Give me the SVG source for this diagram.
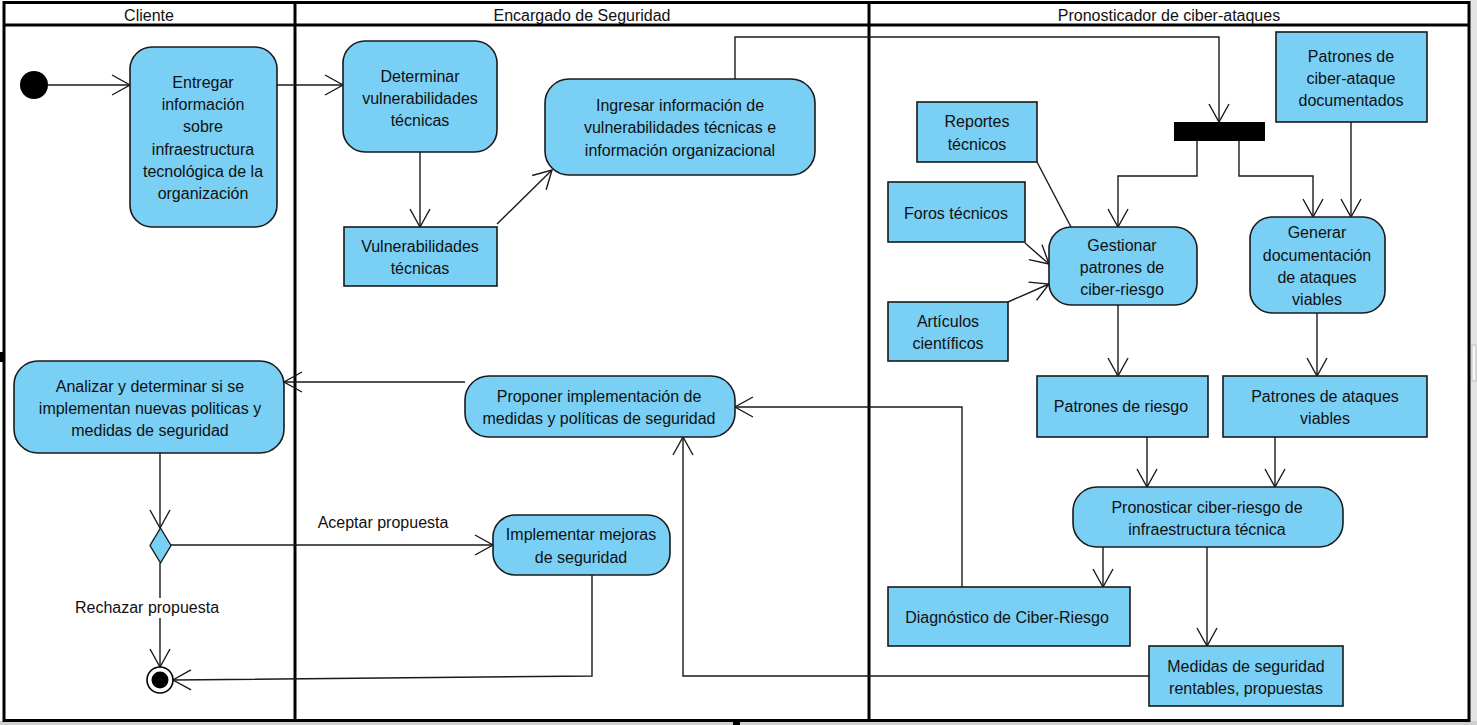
<svg xmlns="http://www.w3.org/2000/svg" width="1477" height="725" viewBox="0 0 1477 725">
<style>
.t{font-family:"Liberation Sans",Arial,sans-serif;font-size:16px;fill:#111;text-anchor:middle}
.h{font-family:"Liberation Sans",Arial,sans-serif;font-size:16px;fill:#111;text-anchor:middle}
.act{fill:#7acff5;stroke:#1a1a1a;stroke-width:1.6}
.obj{fill:#7acff5;stroke:#1a1a1a;stroke-width:1.6}
.c{fill:none;stroke:#1a1a1a;stroke-width:1.4}
.ca{fill:none;stroke:#1a1a1a;stroke-width:1.4;marker-end:url(#arr)}
.lane{fill:none;stroke:#000;stroke-width:3}
</style>
<defs>
<marker id="arr" markerUnits="userSpaceOnUse" markerWidth="20" markerHeight="22" viewBox="0 0 20 22" refX="19" refY="11" orient="auto">
<path d="M1,1 L19,11 L1,21" fill="none" stroke="#1a1a1a" stroke-width="1.4"/>
</marker>
</defs>
<rect x="0" y="0" width="1477" height="725" fill="#ffffff"/>
<rect x="1470" y="0" width="7" height="725" fill="#e4e4e4"/>
<rect x="1472" y="345" width="4" height="36" fill="#f6f6f6" stroke="#bdbdbd" stroke-width="1"/>
<rect x="0" y="721" width="1477" height="4" fill="#cfcfcf"/>
<rect x="733" y="719" width="7" height="6" fill="#000"/>
<rect x="0" y="352" width="4" height="10" fill="#000"/>

<g id="swimlanes">
<rect class="lane" x="4" y="2.5" width="1465" height="718"/>
<line class="lane" x1="4" y1="25" x2="1469" y2="25"/>
<line class="lane" x1="295" y1="2.5" x2="295" y2="720"/>
<line class="lane" x1="869" y1="2.5" x2="869" y2="720"/>
<text class="h" x="149" y="21">Cliente</text>
<text class="h" x="582" y="21">Encargado de Seguridad</text>
<text class="h" x="1169" y="21">Pronosticador de ciber-ataques</text>
</g>

<g id="connectors">
<line class="ca" x1="48" y1="85" x2="130" y2="85"/>
<line class="ca" x1="277" y1="85" x2="343" y2="85"/>
<line class="ca" x1="420" y1="152" x2="420" y2="227"/>
<line class="ca" x1="497" y1="224" x2="552" y2="170"/>
<polyline class="ca" points="735,79 735,37 1219,37 1219,122"/>
<polyline class="ca" points="1197,141 1197,176 1118,176 1118,227"/>
<polyline class="ca" points="1239,141 1239,176 1313,176 1313,217"/>
<line class="ca" x1="1351" y1="122" x2="1351" y2="217"/>
<line class="c" x1="1037" y1="162" x2="1071" y2="227"/>
<line class="ca" x1="1025" y1="243" x2="1049" y2="264"/>
<line class="ca" x1="1008" y1="302" x2="1049" y2="284"/>
<line class="ca" x1="1118" y1="305" x2="1118" y2="376"/>
<line class="ca" x1="1317" y1="313" x2="1317" y2="376"/>
<line class="ca" x1="1147" y1="437" x2="1147" y2="487"/>
<line class="ca" x1="1275" y1="437" x2="1275" y2="487"/>
<line class="ca" x1="1103" y1="547" x2="1103" y2="587"/>
<line class="ca" x1="1207" y1="547" x2="1207" y2="646"/>
<polyline class="ca" points="962,587 962,407 735,407"/>
<polyline class="ca" points="1149,676 683,676 683,437"/>
<line class="ca" x1="465" y1="382" x2="284" y2="382"/>
<line class="ca" x1="160" y1="453" x2="160" y2="528"/>
<line class="ca" x1="171" y1="545" x2="493" y2="545"/>
<line class="ca" x1="160" y1="563" x2="160" y2="667"/>
<polyline class="ca" points="592,575 592,676 173,680"/>
<rect x="72" y="598" width="150" height="20" fill="#ffffff"/>
<text class="t" x="383" y="528">Aceptar propuesta</text>
<text class="t" x="147" y="613">Rechazar propuesta</text>
</g>

<g id="initial">
<circle cx="34" cy="85" r="14" fill="#000"/>
</g>

<g id="entregar">
<rect class="act" x="130" y="47" width="147" height="180" rx="22"/>
<text class="t" x="203" y="88">Entregar</text>
<text class="t" x="203" y="110">información</text>
<text class="t" x="203" y="132">sobre</text>
<text class="t" x="203" y="155">infraestructura</text>
<text class="t" x="203" y="177">tecnológica de la</text>
<text class="t" x="203" y="199">organización</text>
</g>

<g id="determinar">
<rect class="act" x="343" y="41" width="154" height="111" rx="22"/>
<text class="t" x="420" y="82">Determinar</text>
<text class="t" x="420" y="104">vulnerabilidades</text>
<text class="t" x="420" y="126">técnicas</text>
</g>

<g id="vulnerabilidades">
<rect class="obj" x="344" y="227" width="153" height="59"/>
<text class="t" x="420" y="252">Vulnerabilidades</text>
<text class="t" x="420" y="274">técnicas</text>
</g>

<g id="ingresar">
<rect class="act" x="545" y="79" width="270" height="96" rx="24"/>
<text class="t" x="680" y="111">Ingresar información de</text>
<text class="t" x="680" y="133">vulnerabilidades técnicas e</text>
<text class="t" x="680" y="156">información organizacional</text>
</g>

<g id="fork">
<rect x="1174" y="122" width="91" height="19" fill="#000"/>
</g>

<g id="patrones-doc">
<rect class="obj" x="1276" y="32" width="151" height="90"/>
<text class="t" x="1351" y="62">Patrones de</text>
<text class="t" x="1351" y="84">ciber-ataque</text>
<text class="t" x="1351" y="106">documentados</text>
</g>

<g id="reportes">
<rect class="obj" x="917" y="102" width="120" height="60"/>
<text class="t" x="977" y="127">Reportes</text>
<text class="t" x="977" y="150">técnicos</text>
</g>

<g id="foros">
<rect class="obj" x="888" y="182" width="137" height="60"/>
<text class="t" x="956" y="219">Foros técnicos</text>
</g>

<g id="articulos">
<rect class="obj" x="888" y="302" width="120" height="59"/>
<text class="t" x="948" y="327">Artículos</text>
<text class="t" x="948" y="349">científicos</text>
</g>

<g id="gestionar">
<rect class="act" x="1049" y="227" width="148" height="78" rx="22"/>
<text class="t" x="1122" y="251">Gestionar</text>
<text class="t" x="1122" y="273">patrones de</text>
<text class="t" x="1122" y="295">ciber-riesgo</text>
</g>

<g id="generar">
<rect class="act" x="1250" y="217" width="135" height="96" rx="22"/>
<text class="t" x="1317" y="238">Generar</text>
<text class="t" x="1317" y="261">documentación</text>
<text class="t" x="1317" y="283">de ataques</text>
<text class="t" x="1317" y="305">viables</text>
</g>

<g id="patrones-riesgo">
<rect class="obj" x="1037" y="376" width="171" height="61"/>
<text class="t" x="1121" y="412">Patrones de riesgo</text>
</g>

<g id="patrones-ataques">
<rect class="obj" x="1223" y="376" width="204" height="61"/>
<text class="t" x="1325" y="402">Patrones de ataques</text>
<text class="t" x="1325" y="424">viables</text>
</g>

<g id="pronosticar">
<rect class="act" x="1073" y="487" width="270" height="60" rx="24"/>
<text class="t" x="1207" y="513">Pronosticar ciber-riesgo de</text>
<text class="t" x="1207" y="535">infraestructura técnica</text>
</g>

<g id="diagnostico">
<rect class="obj" x="888" y="587" width="242" height="59"/>
<text class="t" x="1007" y="623">Diagnóstico de Ciber-Riesgo</text>
</g>

<g id="medidas">
<rect class="obj" x="1149" y="646" width="194" height="60"/>
<text class="t" x="1246" y="672">Medidas de seguridad</text>
<text class="t" x="1246" y="694">rentables, propuestas</text>
</g>

<g id="proponer">
<rect class="act" x="465" y="376" width="270" height="61" rx="24"/>
<text class="t" x="599" y="402">Proponer implementación de</text>
<text class="t" x="599" y="424">medidas y políticas de seguridad</text>
</g>

<g id="analizar">
<rect class="act" x="14" y="361" width="270" height="92" rx="24"/>
<text class="t" x="150" y="392">Analizar y determinar si se</text>
<text class="t" x="150" y="414">implementan nuevas politicas y</text>
<text class="t" x="150" y="436">medidas de seguridad</text>
</g>

<g id="decision">
<polygon points="160.5,528 171,545.5 160.5,563 150,545.5" fill="#7acff5" stroke="#1a1a1a" stroke-width="1.4"/>
</g>

<g id="implementar">
<rect class="act" x="493" y="515" width="177" height="60" rx="22"/>
<text class="t" x="581" y="540">Implementar mejoras</text>
<text class="t" x="581" y="563">de seguridad</text>
</g>

<g id="final">
<circle cx="160" cy="680" r="13" fill="#fff" stroke="#000" stroke-width="1.6"/>
<circle cx="160" cy="680" r="8.5" fill="#000"/>
</g>
</svg>
